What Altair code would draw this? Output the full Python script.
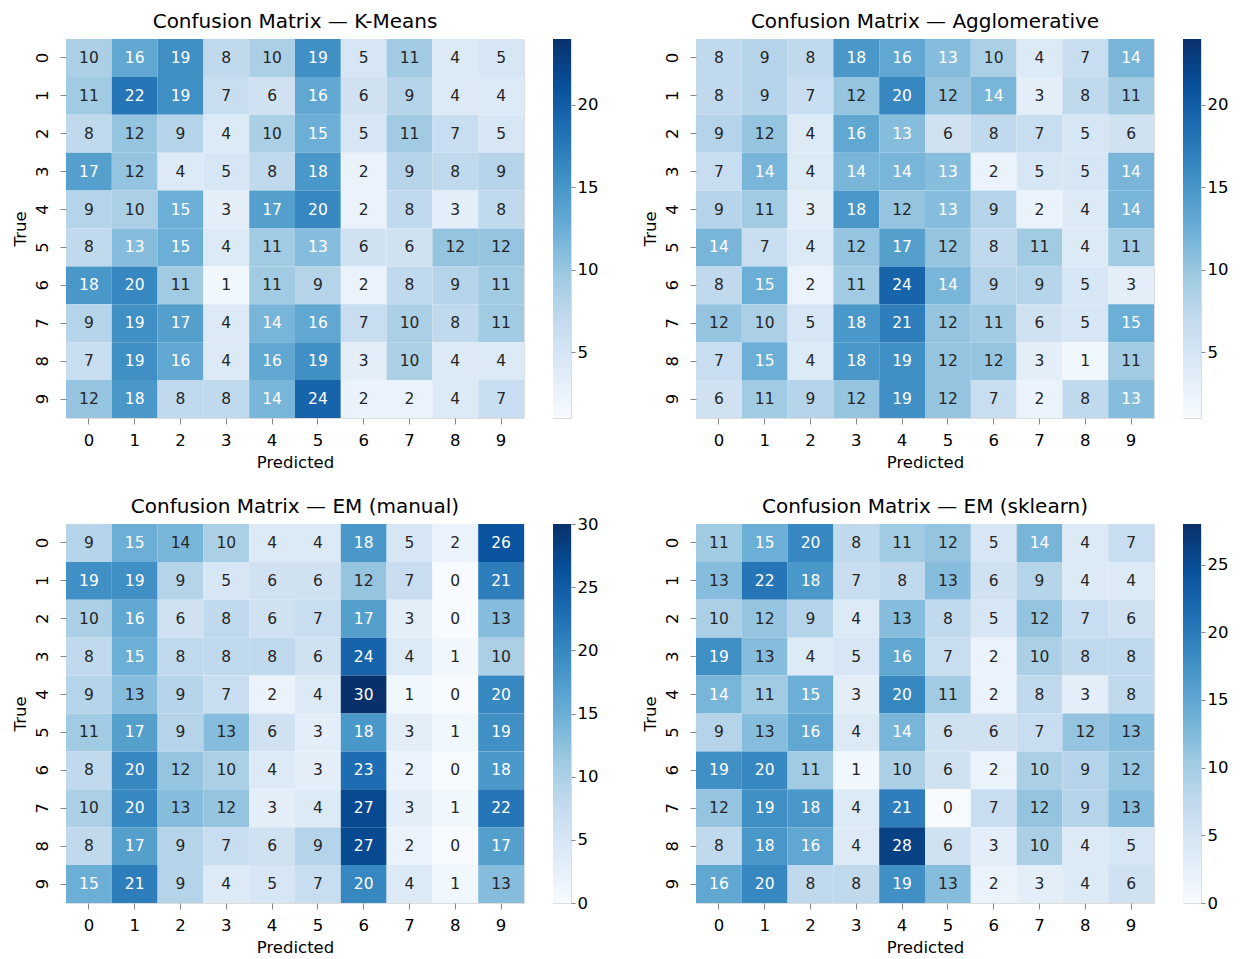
import altair as alt
import pandas as pd

digits = list(range(10))

titles = [
    "Confusion Matrix — K-Means",
    "Confusion Matrix — Agglomerative",
    "Confusion Matrix — EM (manual)",
    "Confusion Matrix — EM (sklearn)",
]

kmeans = [
    [10, 16, 19, 8, 10, 19, 5, 11, 4, 5],
    [11, 22, 19, 7, 6, 16, 6, 9, 4, 4],
    [8, 12, 9, 4, 10, 15, 5, 11, 7, 5],
    [17, 12, 4, 5, 8, 18, 2, 9, 8, 9],
    [9, 10, 15, 3, 17, 20, 2, 8, 3, 8],
    [8, 13, 15, 4, 11, 13, 6, 6, 12, 12],
    [18, 20, 11, 1, 11, 9, 2, 8, 9, 11],
    [9, 19, 17, 4, 14, 16, 7, 10, 8, 11],
    [7, 19, 16, 4, 16, 19, 3, 10, 4, 4],
    [12, 18, 8, 8, 14, 24, 2, 2, 4, 7],
]
agglomerative = [
    [8, 9, 8, 18, 16, 13, 10, 4, 7, 14],
    [8, 9, 7, 12, 20, 12, 14, 3, 8, 11],
    [9, 12, 4, 16, 13, 6, 8, 7, 5, 6],
    [7, 14, 4, 14, 14, 13, 2, 5, 5, 14],
    [9, 11, 3, 18, 12, 13, 9, 2, 4, 14],
    [14, 7, 4, 12, 17, 12, 8, 11, 4, 11],
    [8, 15, 2, 11, 24, 14, 9, 9, 5, 3],
    [12, 10, 5, 18, 21, 12, 11, 6, 5, 15],
    [7, 15, 4, 18, 19, 12, 12, 3, 1, 11],
    [6, 11, 9, 12, 19, 12, 7, 2, 8, 13],
]
em_manual = [
    [9, 15, 14, 10, 4, 4, 18, 5, 2, 26],
    [19, 19, 9, 5, 6, 6, 12, 7, 0, 21],
    [10, 16, 6, 8, 6, 7, 17, 3, 0, 13],
    [8, 15, 8, 8, 8, 6, 24, 4, 1, 10],
    [9, 13, 9, 7, 2, 4, 30, 1, 0, 20],
    [11, 17, 9, 13, 6, 3, 18, 3, 1, 19],
    [8, 20, 12, 10, 4, 3, 23, 2, 0, 18],
    [10, 20, 13, 12, 3, 4, 27, 3, 1, 22],
    [8, 17, 9, 7, 6, 9, 27, 2, 0, 17],
    [15, 21, 9, 4, 5, 7, 20, 4, 1, 13],
]
em_sklearn = [
    [11, 15, 20, 8, 11, 12, 5, 14, 4, 7],
    [13, 22, 18, 7, 8, 13, 6, 9, 4, 4],
    [10, 12, 9, 4, 13, 8, 5, 12, 7, 6],
    [19, 13, 4, 5, 16, 7, 2, 10, 8, 8],
    [14, 11, 15, 3, 20, 11, 2, 8, 3, 8],
    [9, 13, 16, 4, 14, 6, 6, 7, 12, 13],
    [19, 20, 11, 1, 10, 6, 2, 10, 9, 12],
    [12, 19, 18, 4, 21, 0, 7, 12, 9, 13],
    [8, 18, 16, 4, 28, 6, 3, 10, 4, 5],
    [16, 20, 8, 8, 19, 13, 2, 3, 4, 6],
]
colorbar_ticks = [
    [5, 10, 15, 20],
    [5, 10, 15, 20],
    [0, 5, 10, 15, 20, 25, 30],
    [0, 5, 10, 15, 20, 25],
]

BLUES = ["#f7fbff", "#deebf7", "#c6dbef", "#9ecae1", "#6baed6",
         "#4292c6", "#2171b5", "#08519c", "#08306b"]

FONT = "DejaVu Sans"
HM_W, HM_H = 458, 379
LBL = 16.5


def panel(title, mat, ticks):
    lo = min(min(r) for r in mat)
    hi = max(max(r) for r in mat)
    rows = []
    for i in digits:
        for j in digits:
            v = mat[i][j]
            rows.append({"true": i, "pred": j, "v": v,
                         "light": (v - lo) / (hi - lo) >= 0.5})
    df = pd.DataFrame(rows)
    stops = [lo + (hi - lo) * k / 8 for k in range(9)]

    base = alt.Chart(df).encode(
        x=alt.X("pred:O", title="Predicted", sort=digits,
                axis=alt.Axis(labelAngle=0, domain=False, tickSize=6,
                              labelFontSize=LBL, titleFontSize=LBL,
                              titleFontWeight="normal", labelPadding=8,
                              titlePadding=6)),
        y=alt.Y("true:O", title="True", sort=digits,
                axis=alt.Axis(labelAngle=270, domain=False, tickSize=6,
                              labelFontSize=LBL, titleFontSize=LBL,
                              titleFontWeight="normal", labelPadding=10,
                              titlePadding=6, labelAlign="center",
                              labelBaseline="bottom")),
    )
    rect = base.mark_rect().encode(
        color=alt.Color("v:Q", legend=None,
                        scale=alt.Scale(domain=stops, range=BLUES,
                                        interpolate="rgb"))
    )
    text = base.mark_text(fontSize=15.5, font=FONT).encode(
        text="v:Q",
        color=alt.condition(alt.datum.light, alt.value("white"),
                            alt.value("#262626")),
    )
    heat = alt.layer(rect, text).properties(
        width=HM_W, height=HM_H,
        title=alt.Title(title, fontSize=20, fontWeight="normal",
                        font=FONT, offset=7, color="black"),
    )

    cb_df = pd.DataFrame({"lo": [lo], "hi": [hi]})
    grad = {
        "gradient": "linear",
        "x1": 0, "y1": 1, "x2": 0, "y2": 0,
        "stops": [{"offset": k / 8, "color": c} for k, c in enumerate(BLUES)],
    }
    cbar = alt.Chart(cb_df).mark_rect(color=grad).encode(
        y=alt.Y("lo:Q", scale=alt.Scale(domain=[lo, hi], nice=False, zero=False),
                axis=alt.Axis(orient="right", values=ticks, title=None,
                              grid=False, domain=False, tickSize=4,
                              labelFontSize=LBL, labelPadding=2)),
        y2="hi:Q",
        x=alt.value(0),
        x2=alt.value(18),
    ).properties(width=18, height=HM_H)

    return alt.hconcat(heat, cbar, spacing=27)


mats = [kmeans, agglomerative, em_manual, em_sklearn]
panels = [panel(t, m, tk) for t, m, tk in zip(titles, mats, colorbar_ticks)]

chart = alt.vconcat(
    alt.hconcat(panels[0], panels[1], spacing=42),
    alt.hconcat(panels[2], panels[3], spacing=42),
    spacing=24,
).configure_view(stroke=None).configure_axis(
    labelFont=FONT, titleFont=FONT, labelColor="black", titleColor="black",
    tickColor="black",
).configure(background="white", padding=3, font=FONT)

chart.save("out.html", embed_options={"renderer": "svg", "actions": False})
